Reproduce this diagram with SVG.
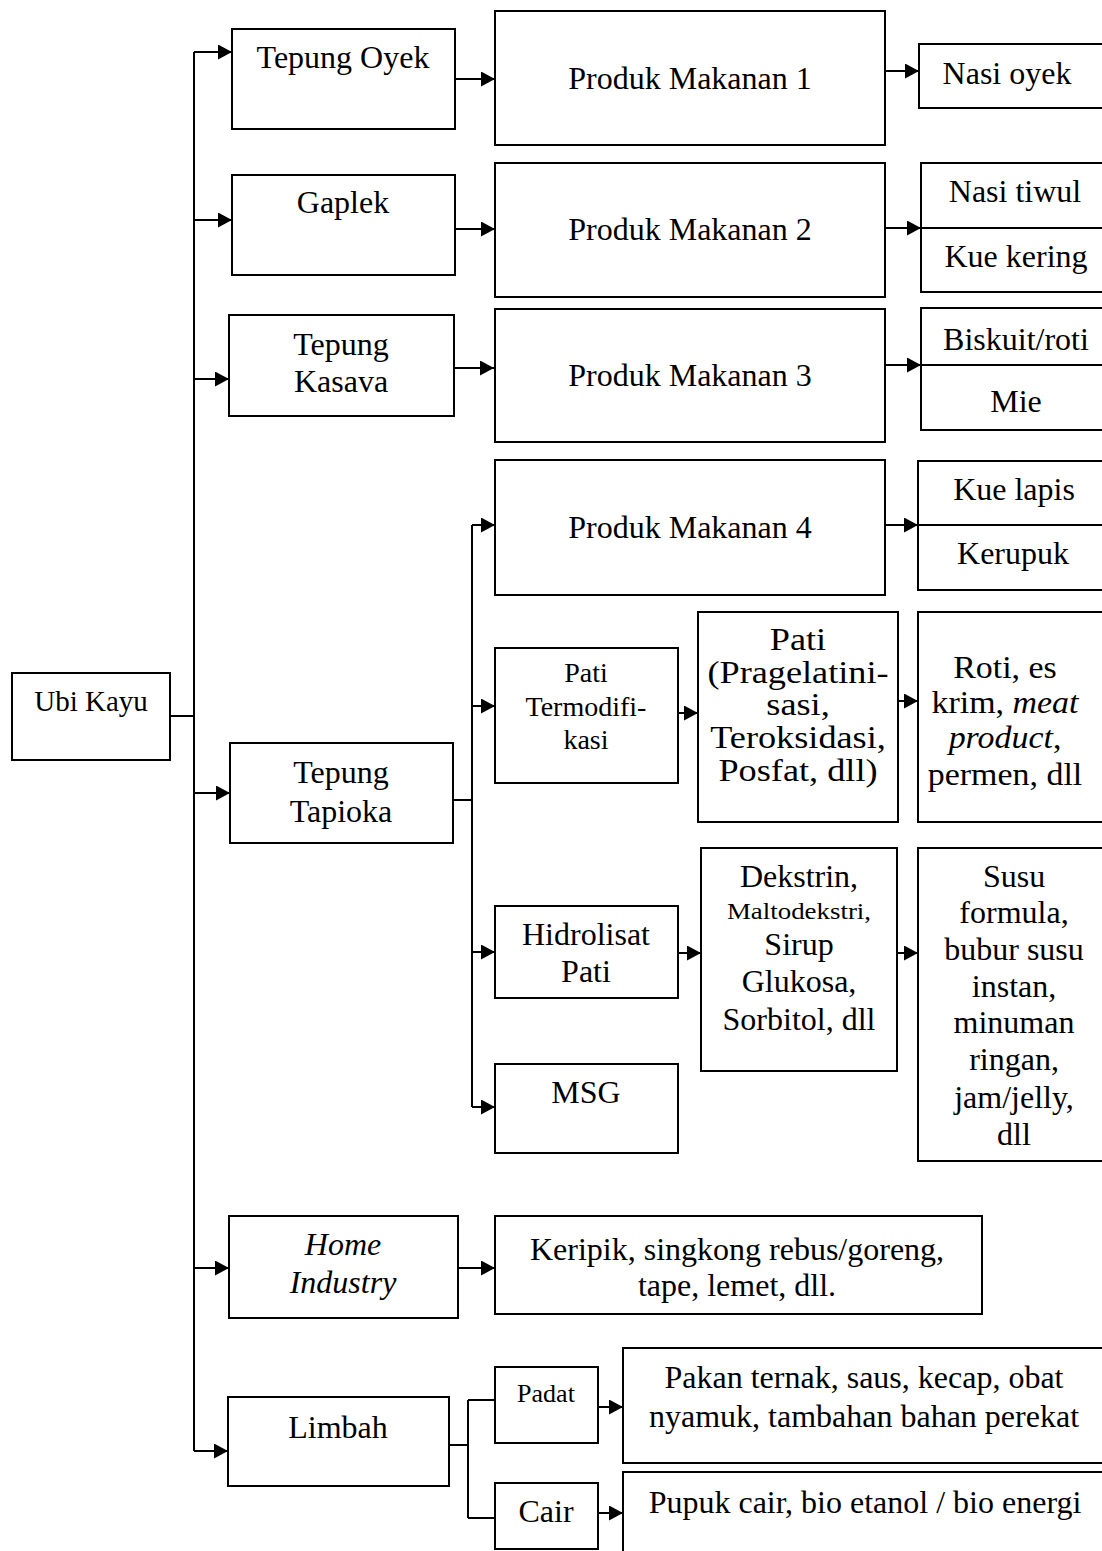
<svg xmlns="http://www.w3.org/2000/svg" width="1102" height="1551" viewBox="0 0 1102 1551">
<style>
.box{fill:#fff;stroke:#000;stroke-width:2}
.ln{fill:none;stroke:#000;stroke-width:2}
.t{font-family:"Liberation Serif","Times New Roman",serif;font-size:32px;text-anchor:middle;fill:#000}
.s31{font-size:31px}
.s29{font-size:29px}
.s28{font-size:28px}
.s26{font-size:26px}
.s24{font-size:24px}
.i{font-style:italic}
</style>
<defs>
<marker id="ah" markerUnits="userSpaceOnUse" markerWidth="15" markerHeight="15" refX="14" refY="7.5" orient="auto">
<path d="M0,0 L14,7.5 L0,15 Z" fill="#000"/>
</marker>
</defs>
<rect width="1102" height="1551" fill="#fff"/>

<g id="connectors">
<path class="ln" d="M194,52 V1451"/>
<path class="ln" d="M170,716 H194"/>
<path class="ln" d="M194,52 H232" marker-end="url(#ah)"/>
<path class="ln" d="M194,220 H232" marker-end="url(#ah)"/>
<path class="ln" d="M194,379 H229" marker-end="url(#ah)"/>
<path class="ln" d="M194,793 H230" marker-end="url(#ah)"/>
<path class="ln" d="M194,1268 H229" marker-end="url(#ah)"/>
<path class="ln" d="M194,1451 H228" marker-end="url(#ah)"/>
<path class="ln" d="M455,79 H495" marker-end="url(#ah)"/>
<path class="ln" d="M455,229 H495" marker-end="url(#ah)"/>
<path class="ln" d="M454,368 H494" marker-end="url(#ah)"/>
<path class="ln" d="M885,71 H919" marker-end="url(#ah)"/>
<path class="ln" d="M885,228 H921" marker-end="url(#ah)"/>
<path class="ln" d="M885,365 H921" marker-end="url(#ah)"/>
<path class="ln" d="M885,525 H918" marker-end="url(#ah)"/>
<path class="ln" d="M453,800 H472"/>
<path class="ln" d="M472,525 V1107"/>
<path class="ln" d="M472,525 H495" marker-end="url(#ah)"/>
<path class="ln" d="M472,706 H495" marker-end="url(#ah)"/>
<path class="ln" d="M472,952 H495" marker-end="url(#ah)"/>
<path class="ln" d="M472,1107 H495" marker-end="url(#ah)"/>
<path class="ln" d="M678,713 H698" marker-end="url(#ah)"/>
<path class="ln" d="M898,701 H918" marker-end="url(#ah)"/>
<path class="ln" d="M678,953 H701" marker-end="url(#ah)"/>
<path class="ln" d="M897,953 H918" marker-end="url(#ah)"/>
<path class="ln" d="M458,1268 H495" marker-end="url(#ah)"/>
<path class="ln" d="M449,1445 H468 M468,1400 V1518 M468,1400 H495 M468,1518 H495"/>
<path class="ln" d="M598,1407 H623" marker-end="url(#ah)"/>
<path class="ln" d="M598,1513 H623" marker-end="url(#ah)"/>
</g>

<g id="ubi-kayu"><rect class="box" x="12" y="673" width="158" height="87"/><text class="t s29" x="91" y="711">Ubi Kayu</text></g>
<g id="tepung-oyek"><rect class="box" x="232" y="29" width="223" height="100"/><text class="t" x="343" y="68">Tepung Oyek</text></g>
<g id="gaplek"><rect class="box" x="232" y="175" width="223" height="100"/><text class="t" x="343" y="213">Gaplek</text></g>
<g id="tepung-kasava"><rect class="box" x="229" y="315" width="225" height="101"/><text class="t" x="341" y="355">Tepung</text><text class="t" x="341" y="392">Kasava</text></g>
<g id="tepung-tapioka"><rect class="box" x="230" y="743" width="223" height="100"/><text class="t" x="341" y="783">Tepung</text><text class="t" x="341" y="822">Tapioka</text></g>
<g id="home-industry"><rect class="box" x="229" y="1216" width="229" height="102"/><text class="t i" x="343" y="1255">Home</text><text class="t i" x="343" y="1293">Industry</text></g>
<g id="limbah"><rect class="box" x="228" y="1397" width="221" height="89"/><text class="t" x="338" y="1438">Limbah</text></g>

<g id="pm1"><rect class="box" x="495" y="11" width="390" height="134"/><text class="t" x="690" y="89">Produk Makanan 1</text></g>
<g id="pm2"><rect class="box" x="495" y="163" width="390" height="134"/><text class="t" x="690" y="240">Produk Makanan 2</text></g>
<g id="pm3"><rect class="box" x="495" y="309" width="390" height="133"/><text class="t" x="690" y="386">Produk Makanan 3</text></g>
<g id="pm4"><rect class="box" x="495" y="460" width="390" height="135"/><text class="t" x="690" y="538">Produk Makanan 4</text></g>

<g id="pati-termodifikasi"><rect class="box" x="495" y="648" width="183" height="135"/><text class="t s28" x="586" y="682">Pati</text><text class="t s28" x="586" y="716">Termodifi-</text><text class="t s28" x="586" y="749">kasi</text></g>
<g id="hidrolisat"><rect class="box" x="495" y="906" width="183" height="92"/><text class="t" x="586" y="945">Hidrolisat</text><text class="t" x="586" y="982">Pati</text></g>
<g id="msg"><rect class="box" x="495" y="1064" width="183" height="89"/><text class="t" x="586" y="1103">MSG</text></g>

<g id="pati-modif"><rect class="box" x="698" y="612" width="200" height="210"/>
<g transform="translate(798 0) scale(1.17 1)">
<text class="t s31" x="0" y="650">Pati</text><text class="t s31" x="0" y="683">(Pragelatini-</text><text class="t s31" x="0" y="715">sasi,</text><text class="t s31" x="0" y="748">Teroksidasi,</text><text class="t s31" x="0" y="781">Posfat, dll)</text>
</g></g>
<g id="dekstrin"><rect class="box" x="701" y="848" width="196" height="223"/>
<text class="t" x="799" y="887">Dekstrin,</text><text class="t s24" transform="translate(799 0) scale(1.12 1)" x="0" y="919">Maltodekstri,</text><text class="t" x="799" y="955">Sirup</text><text class="t" x="799" y="992">Glukosa,</text><text class="t" x="799" y="1030">Sorbitol, dll</text></g>

<g id="nasi-oyek"><rect class="box" x="919" y="44" width="200" height="64"/><text class="t" x="1007" y="84">Nasi oyek</text></g>
<g id="nasi-tiwul"><rect class="box" x="921" y="163" width="200" height="129"/><path class="ln" d="M921,228 H1110"/><text class="t" x="1015" y="202">Nasi tiwul</text><text class="t" x="1016" y="267">Kue kering</text></g>
<g id="biskuit"><rect class="box" x="921" y="308" width="200" height="122"/><path class="ln" d="M921,365 H1110"/><text class="t" x="1016" y="350">Biskuit/roti</text><text class="t" x="1016" y="412">Mie</text></g>
<g id="kue-lapis"><rect class="box" x="918" y="461" width="200" height="129"/><path class="ln" d="M918,525 H1110" stroke-width="3"/><text class="t" x="1014" y="500">Kue lapis</text><text class="t" x="1013" y="564">Kerupuk</text></g>
<g id="roti"><rect class="box" x="918" y="612" width="200" height="210"/>
<g transform="translate(1005 0) scale(1.06 1)">
<text class="t" x="0" y="678">Roti, es</text><text class="t" x="0" y="713">krim, <tspan class="i">meat</tspan></text><text class="t" x="0" y="748"><tspan class="i">product</tspan>,</text><text class="t" x="0" y="785">permen, dll</text>
</g></g>
<g id="susu"><rect class="box" x="918" y="848" width="200" height="313"/>
<text class="t" x="1014" y="887">Susu</text><text class="t" x="1014" y="923">formula,</text><text class="t" x="1014" y="960">bubur susu</text><text class="t" x="1014" y="997">instan,</text><text class="t" x="1014" y="1033">minuman</text><text class="t" x="1014" y="1070">ringan,</text><text class="t" x="1014" y="1108">jam/jelly,</text><text class="t" x="1014" y="1145">dll</text></g>

<g id="keripik"><rect class="box" x="495" y="1216" width="487" height="98"/><text class="t" x="737" y="1260">Keripik, singkong rebus/goreng,</text><text class="t" x="737" y="1296">tape, lemet, dll.</text></g>
<g id="padat"><rect class="box" x="495" y="1367" width="103" height="76"/><text class="t s26" x="546" y="1402">Padat</text></g>
<g id="cair"><rect class="box" x="495" y="1483" width="103" height="66"/><text class="t" x="546" y="1522">Cair</text></g>
<g id="pakan"><rect class="box" x="623" y="1348" width="500" height="115"/><text class="t" x="864" y="1388">Pakan ternak, saus, kecap, obat</text><text class="t" x="864" y="1427">nyamuk, tambahan bahan perekat</text></g>
<g id="pupuk"><rect class="box" x="623" y="1472" width="500" height="100"/><text class="t" x="865" y="1513">Pupuk cair, bio etanol / bio energi</text></g>
</svg>
